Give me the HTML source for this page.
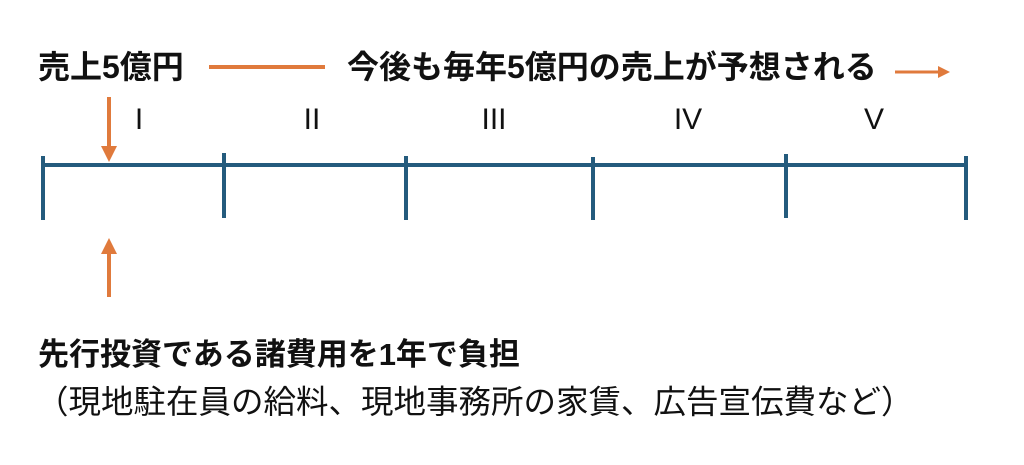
<!DOCTYPE html>
<html><head><meta charset="utf-8"><style>
html,body{margin:0;padding:0;background:#fff;}
body{width:1024px;height:465px;position:relative;overflow:hidden;font-family:"Liberation Sans","Noto Sans CJK JP",sans-serif;color:#111;}
.t{position:absolute;white-space:nowrap;line-height:1;}
.b{font-weight:bold;font-size:32px;}
.r{font-size:32.5px;}
.n{font-size:30px;transform:translateX(-50%);}
</style></head><body>
<svg width="1024" height="465" style="position:absolute;left:0;top:0">
<g stroke="#245b7d" stroke-width="4">
<line x1="43" y1="165" x2="966" y2="165"/>
<line x1="43" y1="156" x2="43" y2="220"/>
<line x1="224" y1="153" x2="224" y2="218"/>
<line x1="406" y1="156" x2="406" y2="220"/>
<line x1="593" y1="157" x2="593" y2="220"/>
<line x1="786" y1="154" x2="786" y2="218"/>
<line x1="966" y1="156" x2="966" y2="220"/>
</g>
<g stroke="#e07a3c" stroke-width="4" fill="#e07a3c">
<line x1="209" y1="67" x2="325" y2="67"/>
<line x1="895" y1="72" x2="940" y2="72" stroke-width="3"/>
<polygon points="938,66 950,72 938,78" stroke="none"/>
<line x1="109" y1="97" x2="109" y2="148"/>
<polygon points="101,146 117,146 109,162" stroke="none"/>
<line x1="109" y1="252" x2="109" y2="297"/>
<polygon points="101,254 117,254 109,238" stroke="none"/>
</g>
</svg>
<div class="t b" style="left:38px;top:51px;">売上5億円</div>
<div class="t b" style="left:347px;top:51px;">今後も毎年5億円の売上が予想される</div>
<div class="t n" style="left:139px;top:105px;">I</div>
<div class="t n" style="left:312px;top:105px;">II</div>
<div class="t n" style="left:494px;top:105px;">III</div>
<div class="t n" style="left:688px;top:105px;">IV</div>
<div class="t n" style="left:874px;top:105px;">V</div>
<div class="t b" style="left:38px;top:339px;font-size:31px;">先行投資である諸費用を1年で負担</div>
<div class="t r" style="left:36px;top:386px;">（現地駐在員の給料、現地事務所の家賃、広告宣伝費など）</div>
</body></html>
